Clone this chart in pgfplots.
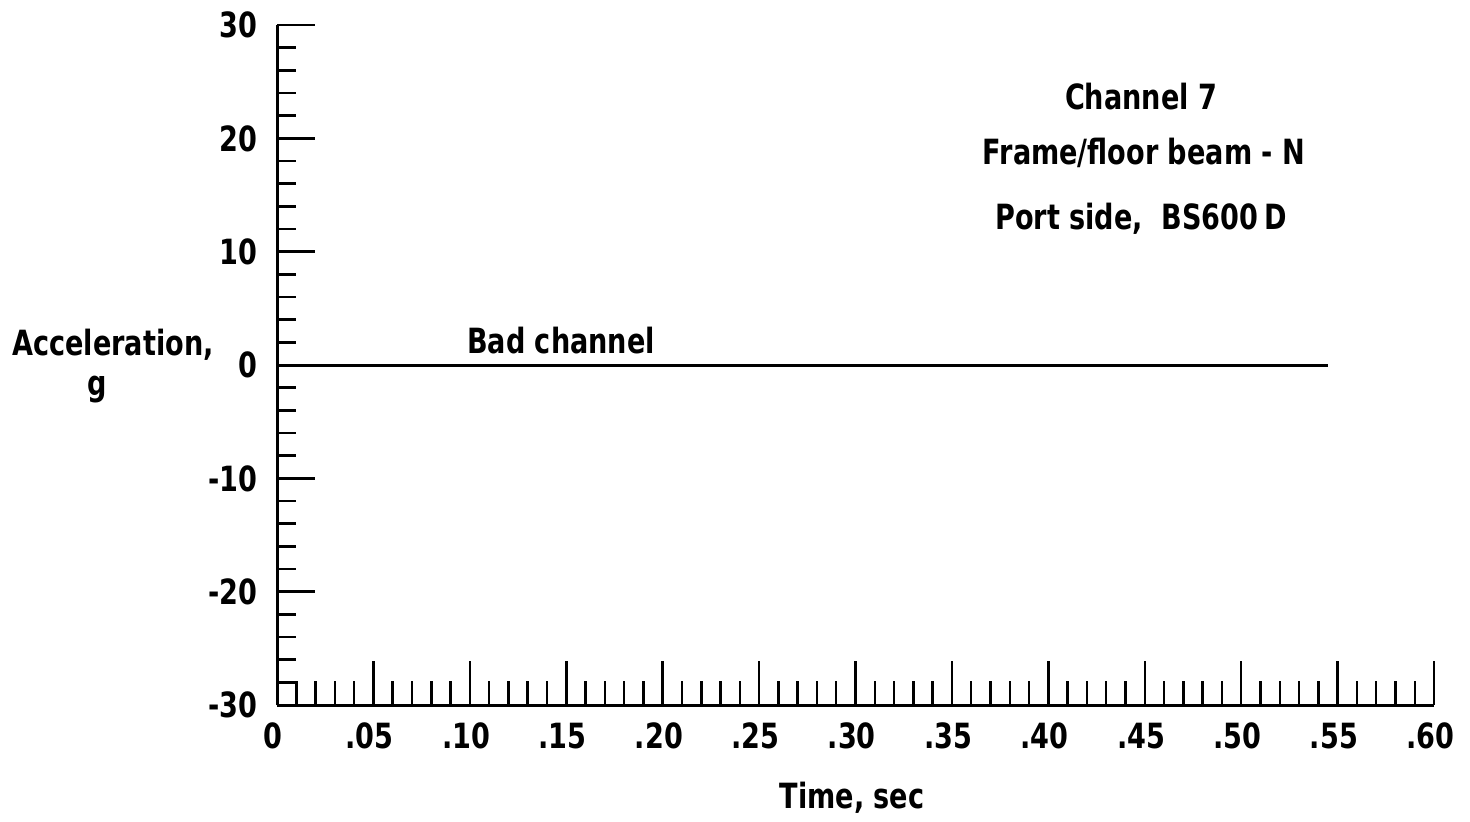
\documentclass[border=0pt]{standalone}
\usepackage{pgfplots}
\pgfplotsset{compat=1.18}
\usepackage{fontspec}
\setmainfont{DejaVu Sans}[FakeStretch=0.78]
\newcommand\lf{\bfseries\fontsize{13.9}{16}\selectfont}
\begin{document}
\begin{tikzpicture}[x=0.4pt,y=-0.4pt, font=\lf]
\useasboundingbox (0,0) rectangle (1470,821);
\begin{axis}[
  at={(110.8pt,-282pt)}, anchor=south west,
  scale only axis, width=462.8pt, height=272pt,
  xmin=0, xmax=0.6, ymin=-30, ymax=30,
  axis lines*=left,
  axis line style={line width=1.2pt, black},
  clip=false,
  tick align=inside,
  xtick={0,0.05,0.1,0.15,0.2,0.25,0.3,0.35,0.4,0.45,0.5,0.55,0.6},
  xticklabels={0,.05,.10,.15,.20,.25,.30,.35,.40,.45,.50,.55,.60},
  minor x tick num=4,
  ytick={-30,-20,-10,0,10,20,30},
  yticklabels={-30,-20,-10,0,10,20,30},
  minor y tick num=4,
  tick style={line width=1pt, black},
  major x tick style={/pgfplots/major tick length=17.6pt},
  minor x tick style={/pgfplots/minor tick length=9.6pt},
  major y tick style={/pgfplots/major tick length=15.2pt},
  minor y tick style={/pgfplots/minor tick length=7.6pt},
  /pgf/number format/assume math mode=true,
  tick label style={font=\lf, inner sep=0pt},
  xticklabel style={anchor=north, yshift=-7pt, xshift=-1.5pt},
  yticklabel style={anchor=east, xshift=-7.6pt},
]
\addplot[black, line width=1.2pt] coordinates {(0,0) (0.545,0)};
\end{axis}
\node at (113,345) {Acceleration,};
\node at (97,390) {g};
\node at (852,798) {Time, sec};
\node at (1141,97) {Channel 7};
\node at (1144,153) {Frame/floor beam - N};
\node at (1141,219) {Port side,\ \ BS600\,D};
\node at (561,341) {Bad channel};
\end{tikzpicture}
\end{document}
